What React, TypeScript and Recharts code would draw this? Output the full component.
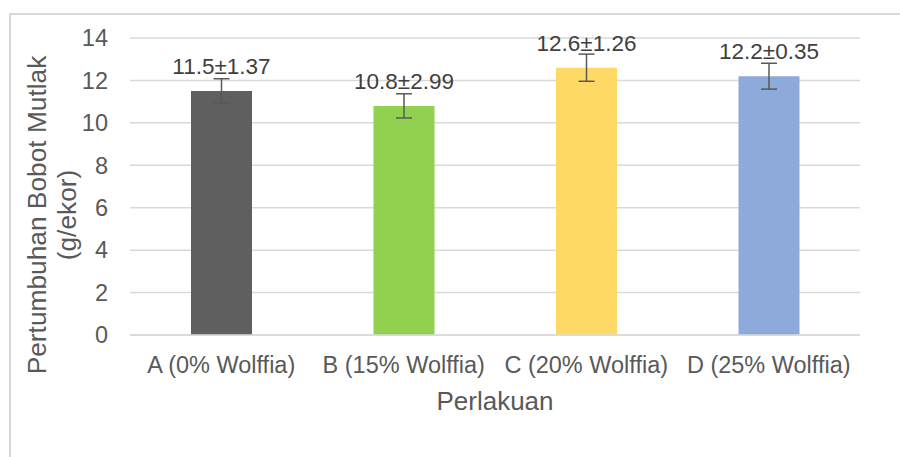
import { BarChart, Bar, XAxis, YAxis, CartesianGrid, ErrorBar, LabelList, Label, Cell } from "recharts";

const categories = ["A (0% Wolffia)", "B (15% Wolffia)", "C (20% Wolffia)", "D (25% Wolffia)"];
const means = [11.5, 10.8, 12.6, 12.2];
const sds = [1.37, 2.99, 1.26, 0.35];
// whisker half-lengths as drawn in the picture
const whiskers = [0.58, 0.57, 0.64, 0.61];
const colors = ["#5f5f5f", "#92d050", "#ffd966", "#8eaadb"];
const yTicks = [0, 2, 4, 6, 8, 10, 12, 14];

const data = categories.map((name, i) => ({
  name,
  value: means[i],
  sd: sds[i],
  err: whiskers[i],
}));

const FONT = "'Liberation Sans', Arial, sans-serif";

function BarLabel(props: any) {
  const { x, y, width, index } = props;
  return (
    <text x={x + width / 2} y={y - 17} textAnchor="middle" fontSize={22.5} fill="#404040" fontFamily={FONT}>
      {`${means[index]}±${sds[index]}`}
    </text>
  );
}

function YTitle() {
  return (
    <text transform="translate(46,215) rotate(-90)" textAnchor="middle" fontSize={26.3} fill="#595959" fontFamily={FONT}>
      <tspan x={0} dy={0}>Pertumbuhan Bobot Mutlak</tspan>
      <tspan x={0} dy={29.5}>(g/ekor)</tspan>
    </text>
  );
}

function XTitle() {
  return (
    <text x={495} y={410} textAnchor="middle" fontSize={26} fill="#595959" fontFamily={FONT}>
      Perlakuan
    </text>
  );
}

export default function App() {
  return (
    <div style={{ position: "absolute", left: 0, top: 0, width: 900, height: 457, overflow: "hidden", background: "#fff" }}>
      <div
        style={{
          position: "absolute",
          left: 9,
          top: 13,
          width: 900,
          height: 460,
          borderLeft: "2px solid #d9d9d9",
          borderTop: "2px solid #d9d9d9",
        }}
      />
      <div style={{ position: "absolute", left: 0, top: 0 }}>
        <BarChart width={900} height={457} data={data} margin={{ top: 38, right: 40, bottom: 0, left: 0 }} barSize={61}>
          <CartesianGrid vertical={false} stroke="#d9d9d9" strokeWidth={1.5} />
          <XAxis
            dataKey="name"
            height={122}
            axisLine={{ stroke: "#d9d9d9", strokeWidth: 1.5 }}
            tickLine={false}
            tickMargin={15}
            tick={{ fontSize: 23.5, fill: "#595959", fontFamily: FONT }}
            interval={0}
          >
            <Label content={<XTitle />} />
          </XAxis>
          <YAxis
            width={130}
            domain={[0, 14]}
            ticks={yTicks}
            axisLine={false}
            tickLine={false}
            tickMargin={16}
            tick={{ fontSize: 23.5, fill: "#595959", fontFamily: FONT }}
          >
            <Label content={<YTitle />} />
          </YAxis>
          <Bar dataKey="value" isAnimationActive={false}>
            {data.map((d, i) => (
              <Cell key={d.name} fill={colors[i]} />
            ))}
            <ErrorBar dataKey="err" width={8} stroke="#595959" strokeWidth={1.5} direction="y" />
            <LabelList dataKey="value" content={<BarLabel />} />
          </Bar>
        </BarChart>
      </div>
    </div>
  );
}
